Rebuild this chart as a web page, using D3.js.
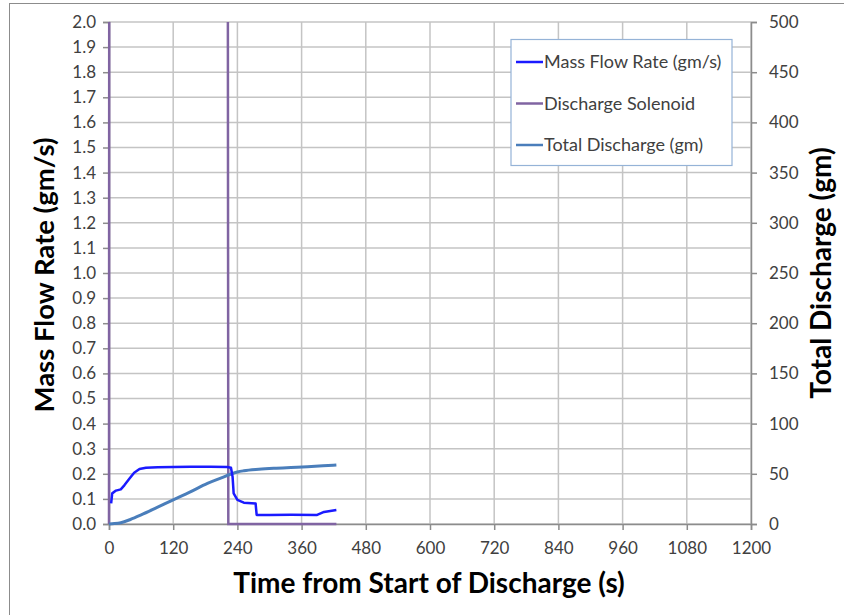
<!DOCTYPE html>
<html>
<head>
<meta charset="utf-8">
<script src="https://cdn.jsdelivr.net/npm/d3@7"></script>
<style>
  body { margin: 0; background: #fff; }
  text { font-family: Lato, "Open Sans", sans-serif; fill: #404040; }
</style>
</head>
<body>
<svg id="chart" width="844" height="615"></svg>
<script>
// time (s), mass flow rate (gm/s)
let flowTime = [4, 6, 13, 22, 29, 38, 47, 57, 69, 91, 120, 153, 190, 221, 228, 231, 233, 240, 252, 274, 276, 300, 340, 389, 402, 425];
let flowRate = [0.082, 0.122, 0.133, 0.138, 0.155, 0.18, 0.204, 0.219, 0.224, 0.226, 0.227, 0.228, 0.228, 0.227, 0.224, 0.188, 0.122, 0.096, 0.085, 0.082, 0.036, 0.036, 0.037, 0.036, 0.048, 0.056];

// discharge solenoid signal (goes off the top of the scale while open)
let solTime = [0, 1, 221, 223, 425];
let solValue = [0, 5, 5, 0, 0];

// time (s), total discharge (gm)
let totTime = [0, 10, 22, 40, 60, 90, 122, 150, 184, 210, 228, 240, 252, 280, 308, 340, 371, 400, 425];
let totMass = [0, 0.4, 1.3, 4.5, 9, 16.5, 24.6, 31.5, 40.5, 46, 49.8, 51.8, 53, 54.5, 55.5, 56.3, 57, 57.9, 58.8];

let xTicks = [0, 120, 240, 360, 480, 600, 720, 840, 960, 1080, 1200];
let leftTicks = d3.range(0, 21).map(i => i / 10);
let rightTicks = d3.range(0, 11).map(i => i * 50);

let legendNames = ['Mass Flow Rate (gm/s)', 'Discharge Solenoid', 'Total Discharge (gm)'];
let colors = ['#1a1aff', '#8064a2', '#4a7ebb'];

let svg = d3.select('#chart');
let pLeft = 109, pRight = 751, pTop = 22, pBottom = 524;

let x = d3.scaleLinear().domain([0, 1200]).range([pLeft, pRight]);
let y = d3.scaleLinear().domain([0, 2]).range([pBottom, pTop]);
let y2 = d3.scaleLinear().domain([0, 500]).range([pBottom, pTop]);

// outer chart border (only left/top fall inside the picture)
svg.append('rect')
    .attr('x', 9.5).attr('y', 3.5)
    .attr('width', 900).attr('height', 700)
    .attr('fill', 'none')
    .attr('stroke', '#8c8c8c')
    .attr('stroke-width', 1);

// gridlines
svg.append('g')
    .selectAll('line')
    .data(leftTicks)
    .join('line')
    .attr('x1', pLeft).attr('x2', pRight)
    .attr('y1', d => y(d)).attr('y2', d => y(d))
    .attr('stroke', '#c4c4c4')
    .attr('stroke-width', 1.5);

svg.append('g')
    .selectAll('line')
    .data(xTicks)
    .join('line')
    .attr('x1', d => x(d)).attr('x2', d => x(d))
    .attr('y1', pTop).attr('y2', pBottom)
    .attr('stroke', '#c4c4c4')
    .attr('stroke-width', 1.5);

// axes
let leftAxis = svg.append('g')
    .attr('transform', `translate(${pLeft},0)`)
    .call(d3.axisLeft(y).tickValues(leftTicks).tickFormat(d3.format('.1f')).tickSize(6).tickPadding(7));

let rightAxis = svg.append('g')
    .attr('transform', `translate(${pRight},0)`)
    .call(d3.axisRight(y2).tickValues(rightTicks).tickSize(6).tickPadding(12));

let bottomAxis = svg.append('g')
    .attr('transform', `translate(0,${pBottom})`)
    .call(d3.axisBottom(x).tickValues(xTicks).tickFormat(d3.format('d')).tickSize(6).tickPadding(12));

for (let ax of [leftAxis, rightAxis, bottomAxis]) {
    ax.select('.domain').attr('stroke', '#8c8c8c').attr('stroke-width', 1.5);
    ax.selectAll('.tick line').attr('stroke', '#8c8c8c').attr('stroke-width', 1.5);
    ax.selectAll('.tick text')
        .attr('font-family', 'Lato, "Open Sans", sans-serif')
        .attr('font-size', 17)
        .attr('fill', '#404040');
}

// clip for the series
svg.append('clipPath').attr('id', 'plotclip')
    .append('rect')
    .attr('x', pLeft - 3).attr('y', pTop)
    .attr('width', pRight - pLeft + 6).attr('height', pBottom - pTop + 3);

let plot = svg.append('g').attr('clip-path', 'url(#plotclip)');

let lineFlow = d3.line().x(d => x(d[0])).y(d => y(d[1]));
let lineTot = d3.line().x(d => x(d[0])).y(d => y2(d[1])).curve(d3.curveMonotoneX);

plot.append('path')
    .datum(solTime.map((t, i) => [t, solValue[i]]))
    .attr('d', lineFlow)
    .attr('fill', 'none')
    .attr('stroke', colors[1])
    .attr('stroke-width', 2.5);

plot.append('path')
    .datum(totTime.map((t, i) => [t, totMass[i]]))
    .attr('d', lineTot)
    .attr('fill', 'none')
    .attr('stroke', colors[2])
    .attr('stroke-width', 3);

plot.append('path')
    .datum(flowTime.map((t, i) => [t, flowRate[i]]))
    .attr('d', lineFlow)
    .attr('fill', 'none')
    .attr('stroke', colors[0])
    .attr('stroke-width', 2.5)
    .attr('stroke-linejoin', 'round');

// legend
let legend = svg.append('g');
legend.append('rect')
    .attr('x', 511).attr('y', 39.5)
    .attr('width', 221).attr('height', 126)
    .attr('fill', '#fff')
    .attr('stroke', '#95b3d7')
    .attr('stroke-width', 1.2);

legendNames.forEach((name, i) => {
    let ly = 62 + i * 41.5;
    legend.append('line')
        .attr('x1', 516).attr('x2', 543)
        .attr('y1', ly).attr('y2', ly)
        .attr('stroke', colors[i])
        .attr('stroke-width', 2.5);
    legend.append('text')
        .attr('x', 544).attr('y', ly)
        .attr('dy', '0.35em')
        .attr('font-size', 18)
        .text(name);
});

// axis titles
svg.append('text')
    .attr('transform', 'translate(54,275) rotate(-90)')
    .attr('text-anchor', 'middle')
    .attr('font-size', 27.5)
    .attr('font-weight', 'bold')
    .style('fill', '#000')
    .text('Mass Flow Rate (gm/s)');

svg.append('text')
    .attr('transform', 'translate(831,273) rotate(-90)')
    .attr('text-anchor', 'middle')
    .attr('font-size', 28)
    .attr('font-weight', 'bold')
    .style('fill', '#000')
    .text('Total Discharge (gm)');

svg.append('text')
    .attr('x', 429).attr('y', 593)
    .attr('text-anchor', 'middle')
    .attr('font-size', 28)
    .attr('font-weight', 'bold')
    .style('fill', '#000')
    .text('Time from Start of Discharge (s)');
</script>
</body>
</html>
